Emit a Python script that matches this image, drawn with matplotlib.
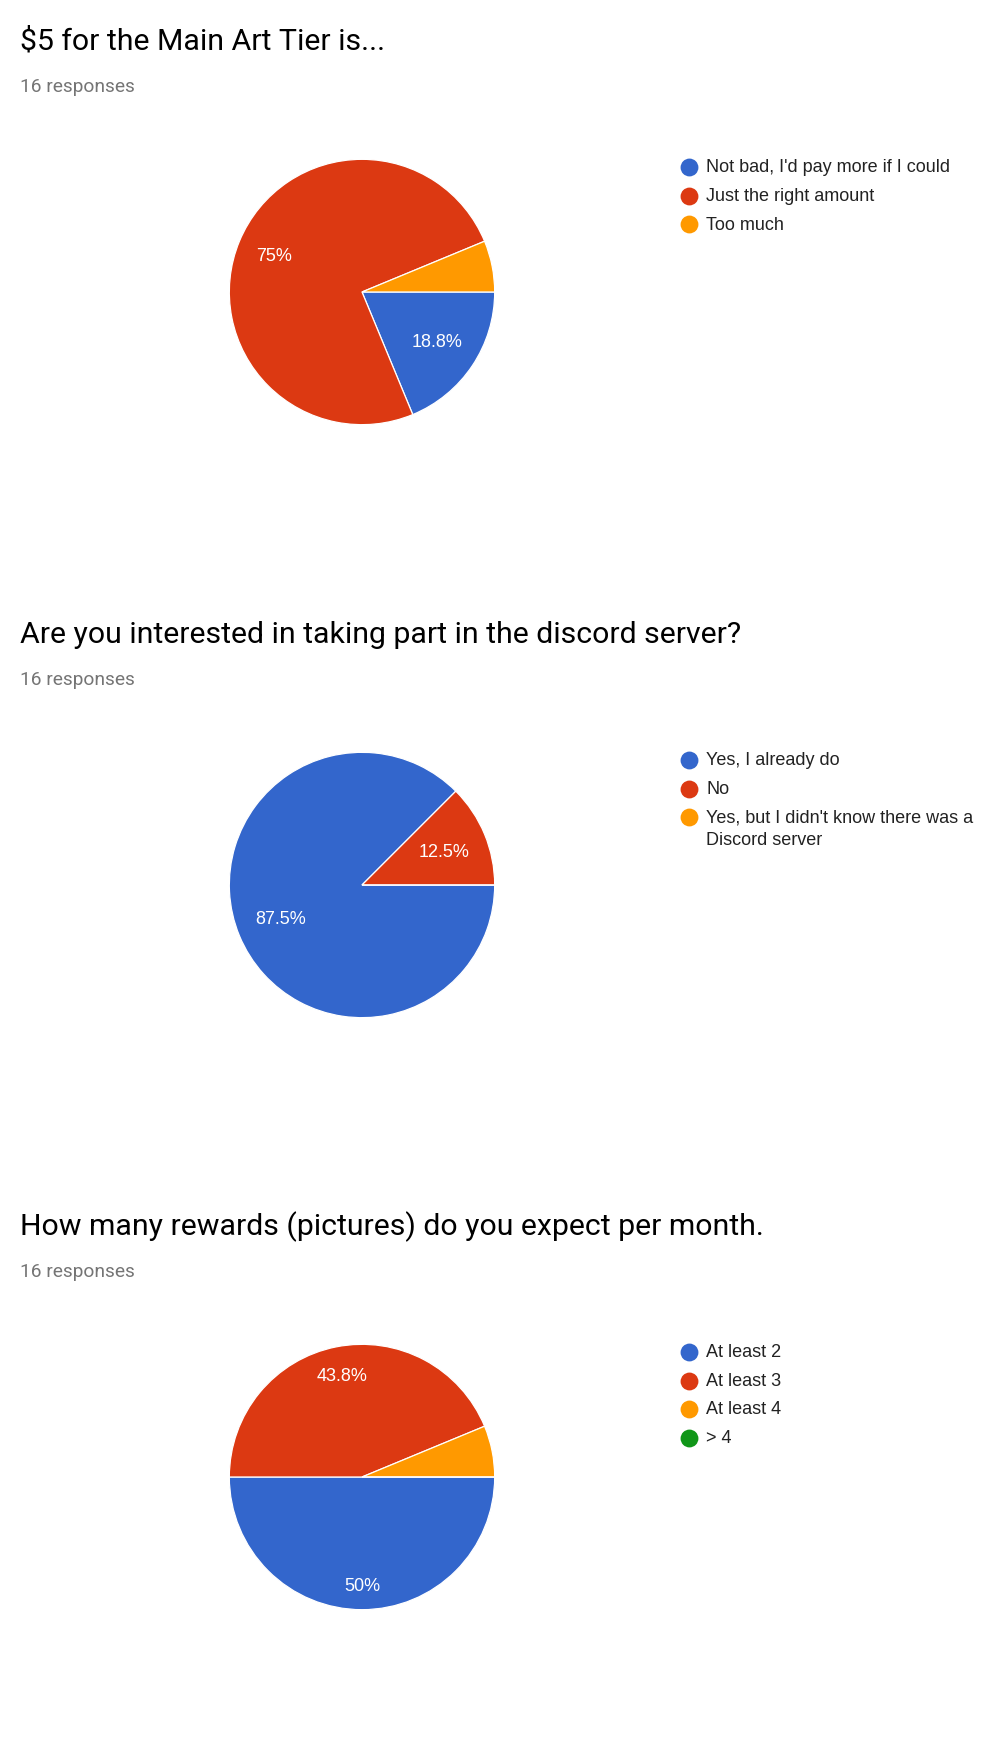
import numpy as np
import matplotlib.pyplot as plt

# Survey questions, answers and response counts
titles = ["$5 for the Main Art Tier is...",
          "Are you interested in taking part in the discord server?",
          "How many rewards (pictures) do you expect per month."]
responses = ["16 responses", "16 responses", "16 responses"]

labels_q1 = ["Not bad, I'd pay more if I could", "Just the right amount", "Too much"]
counts_q1 = [3, 12, 1]

labels_q2 = ["Yes, I already do", "No", "Yes, but I didn't know there was a\nDiscord server"]
counts_q2 = [14, 2, 0]

labels_q3 = ["At least 2", "At least 3", "At least 4", "> 4"]
counts_q3 = [8, 7, 1, 0]

colors = ["#3366CC", "#DC3912", "#FF9900", "#109618"]

W, H = 992, 1749
fig = plt.figure(figsize=(W / 100, H / 100), dpi=100)

# overlay axes in pixel units for the text and legends
ov = fig.add_axes([0, 0, 1, 1])
ov.set_xlim(0, W)
ov.set_ylim(H, 0)
ov.axis('off')


def pct_label(p):
    if p < 8:
        return ''
    s = f"{p:.1f}".rstrip('0').rstrip('.')
    return s + '%'


sections = [(labels_q1, counts_q1), (labels_q2, counts_q2), (labels_q3, counts_q3)]
offsets = [0, 593, 1185]
R = 134
cx = 362
pies = []

for i, (labels, counts) in enumerate(sections):
    off = offsets[i]
    cy = 293 + off

    ov.text(20, 50 + off, titles[i], fontsize=21.75, family='Roboto',
            color='#000000', va='baseline', ha='left')
    ov.text(20, 92 + off, responses[i], fontsize=13.8, family='Roboto',
            color='#757575', va='baseline', ha='left')

    ax = fig.add_axes([(cx - R) / W, 1 - (cy + R) / H, 2 * R / W, 2 * R / H])
    wedges, texts, autotexts = ax.pie(
        counts, colors=colors[:len(counts)], startangle=0, counterclock=False,
        autopct=pct_label, pctdistance=0.72, radius=1,
        wedgeprops=dict(edgecolor='white', linewidth=0.9),
        textprops=dict(color='white', fontsize=13, family='Liberation Sans'))
    ax.set_xlim(-1.01, 1.01)
    ax.set_ylim(-1.01, 1.01)
    ax.set_aspect('equal')
    pies.append((wedges, autotexts))

    # legend
    ly = 168 + off
    for j, lab in enumerate(labels):
        ov.scatter([689], [ly], s=165, color=colors[j], linewidths=0)
        for k, line in enumerate(lab.split('\n')):
            ov.text(706, ly + k * 23, line, fontsize=13, family='Liberation Sans',
                    color='#222222', va='center', ha='left')
        ly += 28.5

# push each slice label out so its box sits just inside the rim
fig.canvas.draw()
renderer = fig.canvas.get_renderer()
K = 115 / R
for wedges, autotexts in pies:
    for w, t in zip(wedges, autotexts):
        if not t.get_text():
            continue
        bb = t.get_window_extent(renderer)
        tw = bb.width / R
        th = bb.height * 0.65 / R
        ang = np.deg2rad((w.theta1 + w.theta2) / 2)
        d = K - tw / 2 * abs(np.cos(ang)) - th / 2 * abs(np.sin(ang))
        t.set_position((d * np.cos(ang), d * np.sin(ang)))

fig.savefig('out.png', dpi=100, facecolor='white')
